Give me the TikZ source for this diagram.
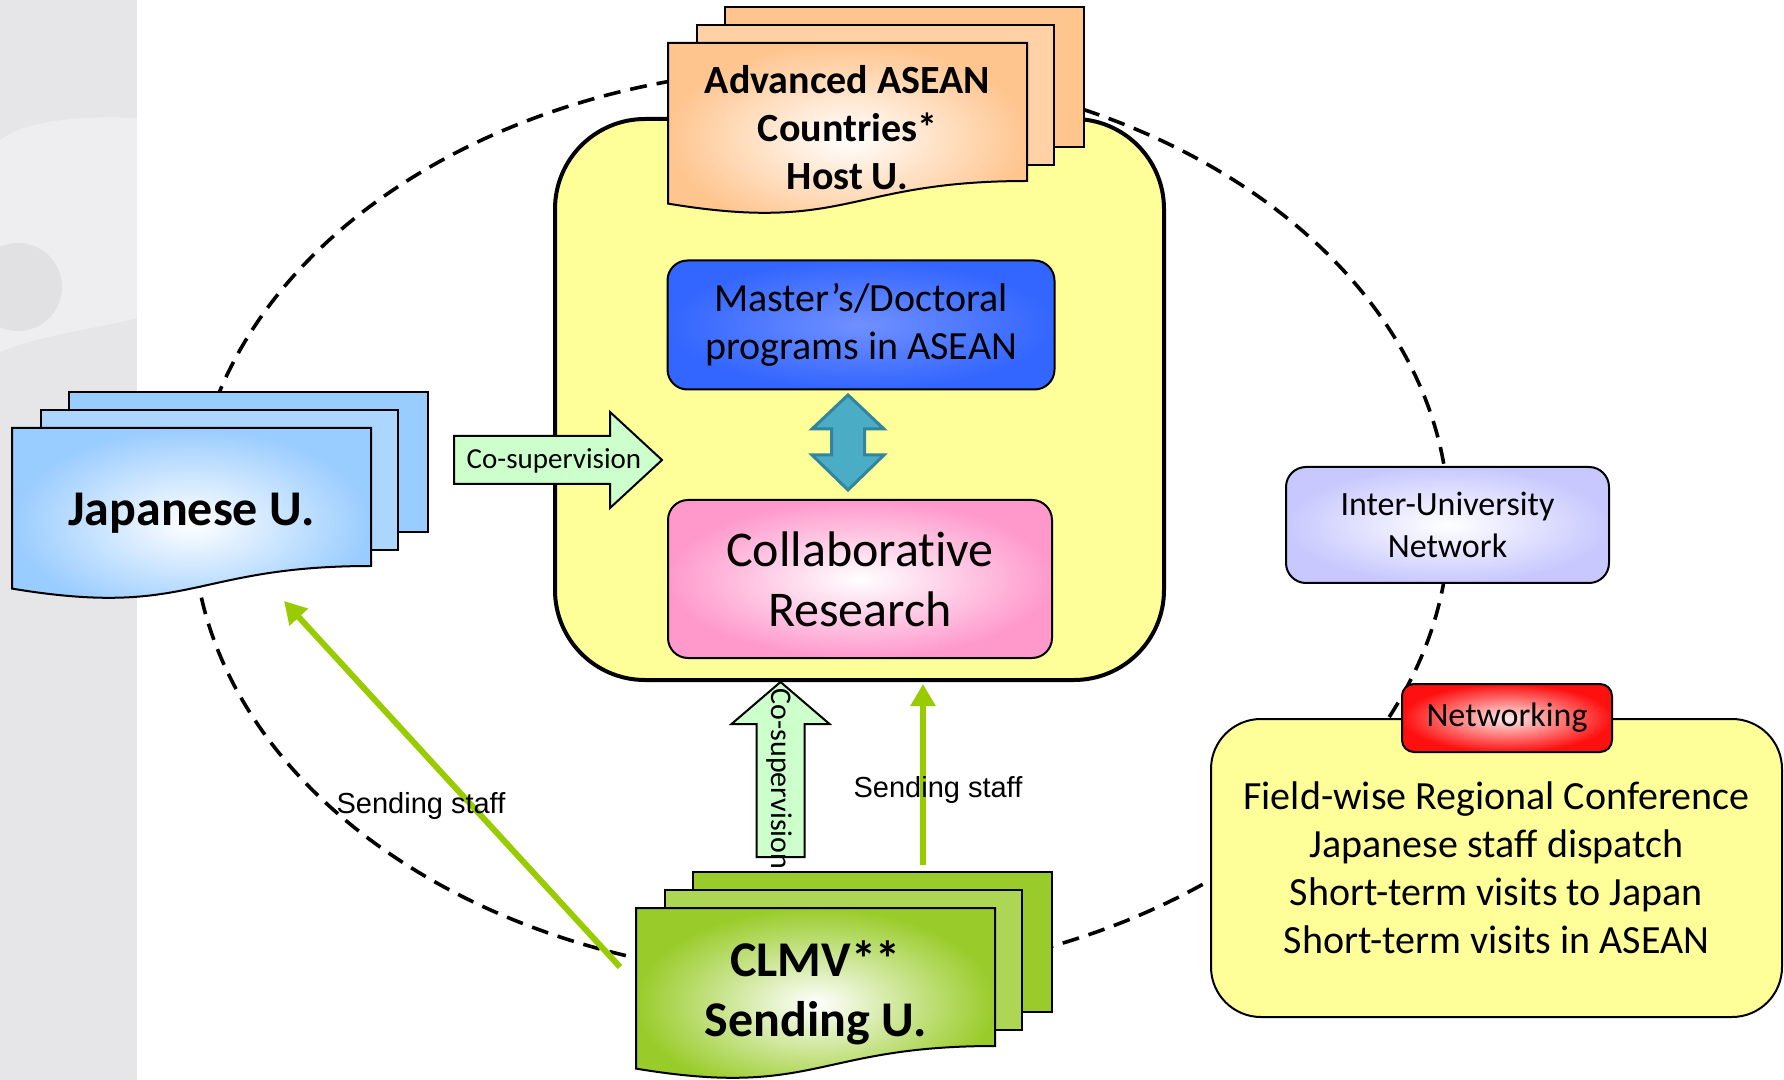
\documentclass[tikz,border=0pt]{standalone}
\usepackage{fontspec}
\setmainfont{Carlito}[Ligatures=NoCommon]
\newfontfamily\arialfont{Liberation Sans}
\usepackage{xcolor}
\usepackage{tikz}
\usetikzlibrary{shapes,arrows,positioning,calc,arrows.meta}

\definecolor{stripgray}{HTML}{E6E6E8}
\definecolor{hostc}{HTML}{FFC58F}
\definecolor{jpnc}{HTML}{99CCFF}
\definecolor{clmvc}{HTML}{99CC2A}
\definecolor{boxyellow}{HTML}{FFFF99}
\definecolor{progblue}{HTML}{3366FF}
\definecolor{proglight}{HTML}{7090FF}
\definecolor{collabpink}{HTML}{FF99CC}
\definecolor{dblfill}{HTML}{4BACC6}
\definecolor{dbldraw}{HTML}{31859C}
\definecolor{cosupc}{HTML}{CCFFCC}
\definecolor{iunc}{HTML}{C8C8FF}
\definecolor{netred}{HTML}{FF1010}
\definecolor{sendgreen}{HTML}{99CC00}

\newcommand{\fsz}[2]{\fontsize{#1}{#2}\selectfont}
% name, left, top, colour, font, text
\newcommand{\multidoc}[6]{%
  \draw[line width=1pt, fill=#4] (#2+57,#3-36) rectangle ++(359,140);
  \draw[line width=1pt, fill=#4!80!white] (#2+29,#3-18) rectangle ++(357,140);
  \draw[line width=1pt, inner color=white, outer color=#4] (#2,#3) -- (#2+359,#3) -- (#2+359,#3+138)
    .. controls (#2+179.5,#3+138) and (#2+179.5,#3+190.5) .. (#2,#3+160.6) -- cycle;
  \node[doclabel, font=#5] (#1) at (#2+179.5,#3+85) {#6};
}

\begin{document}
\begin{tikzpicture}[x=0.5pt, y=-0.5pt,
    doclabel/.style={align=center, inner sep=0pt},
    roundbox/.style={draw, line width=1pt, rounded corners=10pt, align=center, inner sep=0pt},
    cosup/.style={draw, line width=1pt, fill=cosupc, line join=miter},
    sendarrow/.style={sendgreen, line width=3pt, -{Triangle[width=12pt,length=11pt]}},
    sendlabel/.style={font=\arialfont\fsz{14.5pt}{17pt}, inner sep=0pt},
    ring/.style={dash pattern=on 8.5pt off 5pt, line width=1.8pt}]
    \useasboundingbox (0,0) rectangle (1784,1080);
    \fill[white] (0,0) rectangle (1784,1080);
    \fill[stripgray] (0,0) rectangle (137,1080);
    \begin{scope}
        \clip (0,0) rectangle (137,1080);
        \fill[white, opacity=0.35] (0,140) .. controls (30,118) and (90,116) .. (137,118) -- (137,318)
            .. controls (90,330) and (40,335) .. (0,352) -- cycle;
        \fill[stripgray!98!black] (18,287) circle (44);
    \end{scope}

    \draw[ring] (821,523) ellipse (628 and 455);

    \node[draw, line width=2pt, fill=boxyellow, rounded corners=45pt, minimum width=304.5pt, minimum height=280.5pt] (main) at (859.5,399.5) {};

    \multidoc{host}{668}{43}{hostc}{\bfseries\fsz{20pt}{24pt}}{Advanced ASEAN\\Countries*\\Host U.}

    \node[roundbox, inner color=proglight, outer color=progblue, minimum width=193.5pt, minimum height=64.5pt, font=\fsz{20pt}{24pt}] (prog) at (861,325) {Master’s/Doctoral\\programs in ASEAN};
    \node[roundbox, inner color=white, outer color=collabpink, minimum width=192pt, minimum height=79pt, font=\fsz{25pt}{30pt}] (collab) at (860,579) {Collaborative\\Research};

    \coordinate (dbl) at (848,442);
    \draw[fill=dblfill, draw=dbldraw, line width=1.5pt, line join=miter] (dbl) ++(0,-47) -- ++(36,34) -- ++(-19.5,0) -- ++(0,26) -- ++(19.5,0)
        -- ++(-36,35) -- ++(-36,-35) -- ++(19.5,0) -- ++(0,-26) -- ++(-19.5,0) -- cycle;

    \coordinate (hcs) at (454,460);
    \draw[cosup] (hcs) ++(0,-24) -- ++(156,0) -- ++(0,-24) -- ++(52,48) -- ++(-52,48) -- ++(0,-24) -- ++(-156,0) -- cycle;
    \node[font=\fsz{14.5pt}{17pt}, inner sep=0pt] (hcslbl) at (554,461) {Co-supervision};

    \multidoc{jpn}{12}{428}{jpnc}{\bfseries\fsz{25pt}{30pt}}{Japanese U.}

    \coordinate (vcs) at (780,857);
    \draw[cosup] (vcs) ++(-23.5,0) -- ++(0,-133) -- ++(-25,0) -- ++(49,-42) -- ++(49,42) -- ++(-25,0) -- ++(0,133) -- cycle;
    \node[font=\fsz{15pt}{17pt}, inner sep=0pt, rotate=-90] (vcslbl) at (779,779) {Co-supervision};

    \multidoc{clmv}{636}{908}{clmvc}{\bfseries\fsz{25pt}{30pt}}{CLMV**\\Sending U.}

    \coordinate (diagfrom) at (620,967);
    \coordinate (diagto) at (284,601);
    \coordinate (vertfrom) at (923,865);
    \coordinate (vertto) at (923,684);
    \draw[sendarrow] (diagfrom) -- (diagto);
    \draw[sendarrow] (vertfrom) -- (vertto);
    \node[sendlabel] (sendl) at (421,806) {Sending staff};
    \node[sendlabel] (sendr) at (938,790) {Sending staff};

    \node[draw, line width=1pt, fill=boxyellow, rounded corners=25pt, minimum width=285.5pt, minimum height=149pt, font=\fsz{20pt}{24pt}, align=center] (act) at (1496.5,868)
        {Field-wise Regional Conference\\Japanese staff dispatch\\Short-term visits to Japan\\Short-term visits in ASEAN};
    \node[roundbox, rounded corners=6pt, inner color=netred!8!white, outer color=netred, minimum width=105pt, minimum height=34pt, font=\fsz{17pt}{20pt}] (net) at (1507,718) {Networking};
    \node[roundbox, inner color=white, outer color=iunc, minimum width=161.5pt, minimum height=58pt, font=\fsz{17pt}{21pt}] (iun) at (1447.5,525) {Inter-University\\Network};
\end{tikzpicture}
\end{document}
